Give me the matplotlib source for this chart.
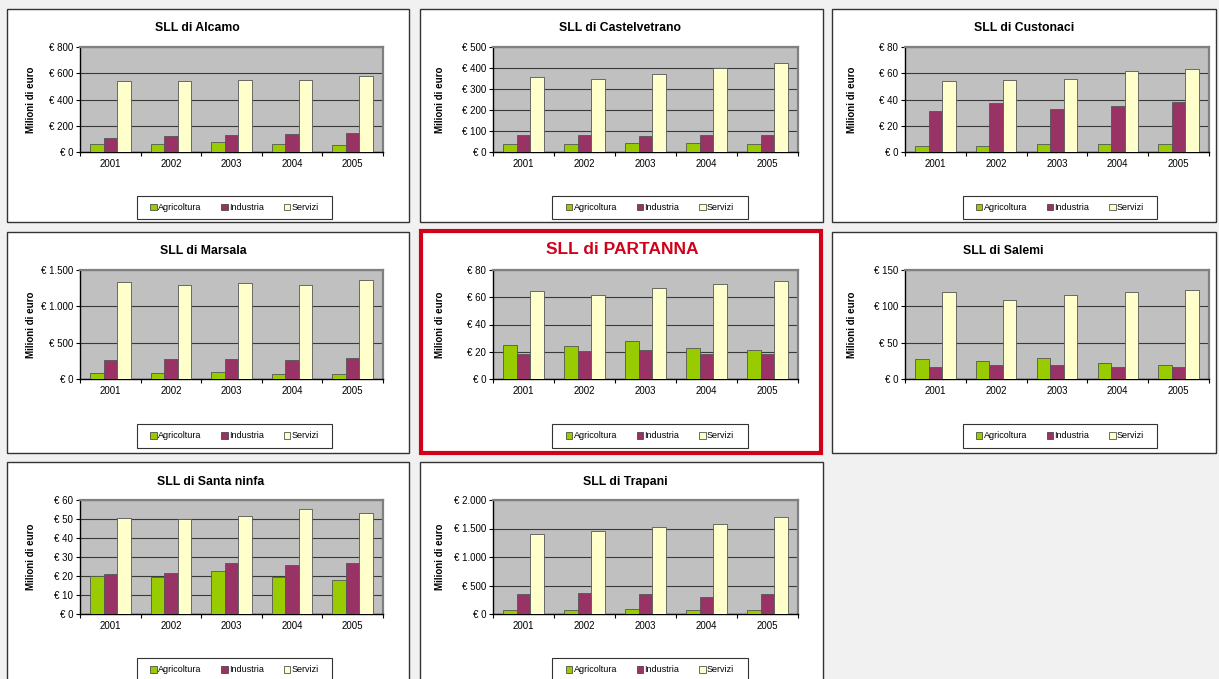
import matplotlib
matplotlib.use("Agg")
import matplotlib.pyplot as plt
from matplotlib.patches import Rectangle, Patch
from matplotlib.ticker import FuncFormatter, MultipleLocator
import numpy as np

plt.rcParams['font.family'] = ['Liberation Sans', 'DejaVu Sans']

# ---------------- data ----------------
years = ["2001", "2002", "2003", "2004", "2005"]
series_names = ["Agricoltura", "Industria", "Servizi"]

sll_names = ["SLL di Alcamo", "SLL di Castelvetrano", "SLL di Custonaci",
             "SLL di Marsala", "SLL di PARTANNA", "SLL di Salemi",
             "SLL di Santa ninfa", "SLL di Trapani"]

alcamo_agri = [63, 63, 78, 63, 56]
alcamo_ind = [103, 125, 132, 140, 147]
alcamo_serv = [541, 541, 548, 545, 578]

castelvetrano_agri = [40, 40, 45, 42, 40]
castelvetrano_ind = [79, 79, 74, 79, 79]
castelvetrano_serv = [358, 347, 373, 400, 424]

custonaci_agri = [4.5, 4.5, 6, 6, 6]
custonaci_ind = [31, 37, 33, 35, 38]
custonaci_serv = [54, 55, 56, 62, 63]

marsala_agri = [77, 77, 91, 68, 64]
marsala_ind = [259, 273, 282, 268, 295]
marsala_serv = [1332, 1300, 1323, 1300, 1364]

partanna_agri = [25.1, 24.4, 28.1, 22.9, 21.2]
partanna_ind = [18.5, 20.7, 21.4, 18.5, 18.5]
partanna_serv = [64.7, 61.5, 66.7, 69.4, 72.1]

salemi_agri = [27, 24.3, 28.9, 22, 19.3]
salemi_ind = [16.5, 19.3, 18.8, 16.5, 17]
salemi_serv = [120.2, 108.3, 115.6, 120.2, 122.5]

santaninfa_agri = [19.8, 19.3, 22.5, 19.3, 17.7]
santaninfa_ind = [20.9, 21.4, 26.7, 25.6, 26.7]
santaninfa_serv = [50.3, 50.2, 51.7, 55.4, 53.3]

trapani_agri = [76, 76, 88, 76, 76]
trapani_ind = [345, 363, 345, 304, 345]
trapani_serv = [1404, 1462, 1520, 1579, 1696]

y_max = [800, 500, 80, 1500, 80, 150, 60, 2000]
y_step = [200, 100, 20, 500, 20, 50, 10, 500]

# ---------------- style / layout ----------------
W, H = 1219, 679
colors = ["#99cc00", "#993366", "#ffffcc"]
bg = "#f0f1f0"

fig = plt.figure(figsize=(W / 100, H / 100), dpi=100, facecolor=bg)


def fx(px):
    return px / W


def fy(py):
    return 1 - py / H


col_panel = [(7, 409), (420, 823), (832, 1216)]
row_panel = [(9, 222), (232, 453), (462, 700)]
col_plot = [(80, 383), (493, 798), (905, 1209)]
row_plot = [(47, 152), (270, 379), (500, 614)]
row_title = [28, 251, 482]
title_cx = [197, 620, 1024, 203, 622, 1003, 211, 625]
col_leg = [(137, 332), (552, 748), (963, 1157)]
row_leg = [(196, 219), (424, 448), (658, 682)]
col_ylab = [31, 440, 852]

all_data = [
    (alcamo_agri, alcamo_ind, alcamo_serv),
    (castelvetrano_agri, castelvetrano_ind, castelvetrano_serv),
    (custonaci_agri, custonaci_ind, custonaci_serv),
    (marsala_agri, marsala_ind, marsala_serv),
    (partanna_agri, partanna_ind, partanna_serv),
    (salemi_agri, salemi_ind, salemi_serv),
    (santaninfa_agri, santaninfa_ind, santaninfa_serv),
    (trapani_agri, trapani_ind, trapani_serv),
]


def euro_fmt(v, pos):
    return "€ " + f"{int(round(v)):,}".replace(",", ".")


x = np.arange(len(years))
bw = 1 / 4.5

for i, name in enumerate(sll_names):
    r, c = divmod(i, 3)
    highlight = (i == 4)
    px0, px1 = col_panel[c]
    py0, py1 = row_panel[r]
    if highlight:
        fig.patches.append(Rectangle((fx(421), fy(453)), fx(821) - fx(421), fy(231) - fy(453),
                                     transform=fig.transFigure, facecolor="white",
                                     edgecolor="#d0021b", linewidth=3.0, zorder=-2))
    else:
        fig.patches.append(Rectangle((fx(px0), fy(py1)), fx(px1) - fx(px0), fy(py0) - fy(py1),
                                     transform=fig.transFigure, facecolor="white",
                                     edgecolor="#333333", linewidth=1.0, zorder=-2))

    ax0, ax1 = col_plot[c]
    ay0, ay1 = row_plot[r]
    ax = fig.add_axes([fx(ax0), fy(ay1), fx(ax1) - fx(ax0), fy(ay0) - fy(ay1)])
    ax.set_facecolor("#c0c0c0")
    for k, vals in enumerate(all_data[i]):
        ax.bar(x + (k - 1) * bw, vals, width=bw, color=colors[k],
               edgecolor="#555555", linewidth=0.6, zorder=3)
    ax.set_xlim(-0.5, len(years) - 0.5)
    ax.set_ylim(0, y_max[i])
    ax.yaxis.set_major_locator(MultipleLocator(y_step[i]))
    ax.yaxis.set_major_formatter(FuncFormatter(euro_fmt))
    ax.grid(axis="y", color="#3a3a3a", linewidth=0.8, zorder=1)
    ax.set_axisbelow(True)
    ax.set_xticks(x)
    ax.set_xticklabels(years)
    ax.set_xticks(np.arange(-0.5, len(years)), minor=True)
    ax.tick_params(axis="x", which="major", length=0, labelsize=7, pad=5)
    ax.tick_params(axis="x", which="minor", length=3, direction="out", width=0.8)
    ax.tick_params(axis="y", length=3, direction="out", labelsize=7, pad=2, width=0.8)
    for s in ("left", "bottom"):
        ax.spines[s].set_color("black")
        ax.spines[s].set_linewidth(1.0)
    for s in ("top", "right"):
        ax.spines[s].set_color("#808080")
        ax.spines[s].set_linewidth(1.6)

    # title
    if highlight:
        fig.text(fx(title_cx[i]), fy(row_title[r] - 2), name, ha="center", va="center",
                 fontsize=12.5, fontweight="bold", color="#d0021b")
    else:
        fig.text(fx(title_cx[i]), fy(row_title[r]), name, ha="center", va="center",
                 fontsize=8.8, fontweight="bold", color="black")
    # y label
    fig.text(fx(col_ylab[c]), fy((ay0 + ay1) / 2), "Milioni di euro", rotation=90,
             ha="center", va="center", fontsize=7, fontweight="bold")

    # legend: frame box + frameless legend inside
    lx0, lx1 = col_leg[c]
    ly0, ly1 = row_leg[r]
    fig.patches.append(Rectangle((fx(lx0), fy(ly1)), fx(lx1) - fx(lx0), fy(ly0) - fy(ly1),
                                 transform=fig.transFigure, facecolor="white",
                                 edgecolor="#333333", linewidth=0.8, zorder=-1))
    handles = [Patch(facecolor=colors[k], edgecolor="#333333", linewidth=0.5)
               for k in range(3)]
    fig.legend(handles, series_names, loc="center",
               bbox_to_anchor=(fx((lx0 + lx1) / 2), fy((ly0 + ly1) / 2)),
               ncol=3, fontsize=6.5, frameon=False,
               handlelength=0.7, handleheight=0.7, handletextpad=0.15,
               columnspacing=2.2, borderpad=0, borderaxespad=0)

fig.savefig("out.png", dpi=100, facecolor=bg)
